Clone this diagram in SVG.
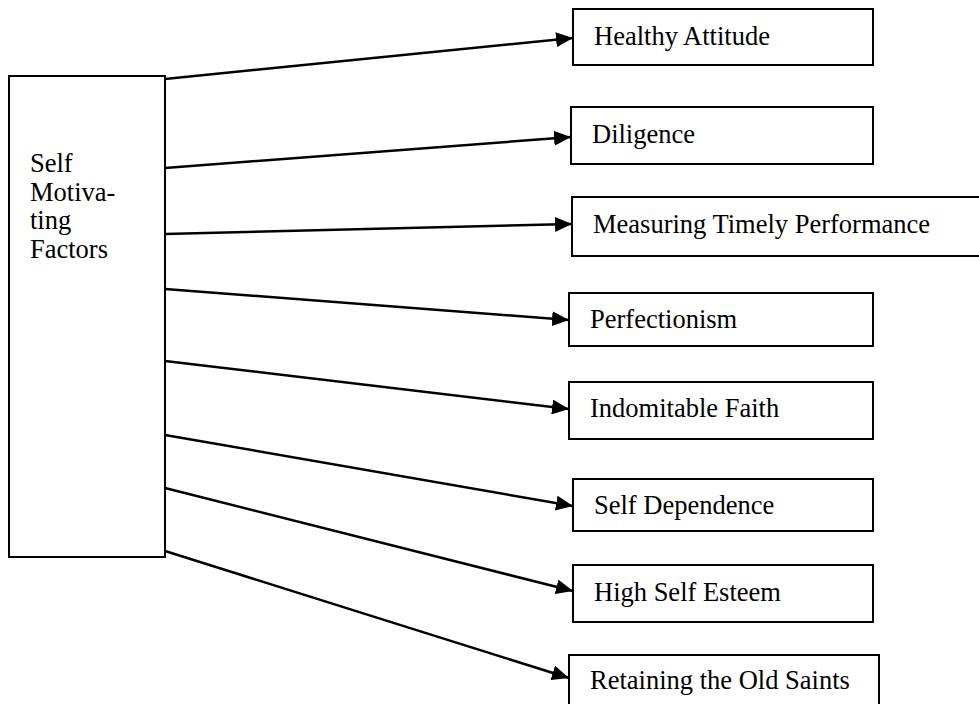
<svg xmlns="http://www.w3.org/2000/svg" width="979" height="704" viewBox="0 0 979 704">
  <style>
    .box { fill: #ffffff; stroke: #000000; stroke-width: 2; }
    .label { font-family: "Liberation Serif", "Times New Roman", serif; font-size: 26.5px; fill: #000000; }
    .link { stroke: #000000; stroke-width: 2.5; fill: none; marker-end: url(#arrow); }
  </style>
  <defs>
    <marker id="arrow" markerUnits="userSpaceOnUse" markerWidth="17" markerHeight="15" refX="17" refY="7.5" orient="auto">
      <path d="M0,0 L17,7.5 L0,15 Z" fill="#000000"/>
    </marker>
  </defs>
  <rect width="979" height="704" fill="#ffffff"/>

  <!-- source node -->
  <g id="self-motivating-factors">
    <rect class="box" x="9" y="76" width="156" height="481"/>
    <text class="label" x="30" y="172">Self</text>
    <text class="label" x="30" y="201">Motiva-</text>
    <text class="label" x="30" y="229">ting</text>
    <text class="label" x="30" y="258">Factors</text>
  </g>

  <!-- factor nodes -->
  <g id="healthy-attitude">
    <rect class="box" x="573" y="9" width="300" height="56"/>
    <text class="label" x="594" y="45">Healthy Attitude</text>
  </g>
  <g id="diligence">
    <rect class="box" x="571" y="107" width="302" height="57"/>
    <text class="label" x="592" y="143">Diligence</text>
  </g>
  <g id="measuring-timely-performance">
    <rect class="box" x="572" y="197" width="420" height="59"/>
    <text class="label" x="593" y="233">Measuring Timely Performance</text>
  </g>
  <g id="perfectionism">
    <rect class="box" x="569" y="293" width="304" height="53"/>
    <text class="label" x="590" y="328">Perfectionism</text>
  </g>
  <g id="indomitable-faith">
    <rect class="box" x="569" y="382" width="304" height="57"/>
    <text class="label" x="590" y="417">Indomitable Faith</text>
  </g>
  <g id="self-dependence">
    <rect class="box" x="573" y="479" width="300" height="52"/>
    <text class="label" x="594" y="514">Self Dependence</text>
  </g>
  <g id="high-self-esteem">
    <rect class="box" x="573" y="565" width="300" height="57"/>
    <text class="label" x="594" y="601">High Self Esteem</text>
  </g>
  <g id="retaining-the-old-saints">
    <rect class="box" x="569" y="655" width="310" height="60"/>
    <text class="label" x="590" y="689">Retaining the Old Saints</text>
  </g>

  <!-- connectors -->
  <g id="connectors">
    <line class="link" x1="165" y1="79" x2="573" y2="38"/>
    <line class="link" x1="165" y1="168" x2="571" y2="137"/>
    <line class="link" x1="165" y1="234" x2="572" y2="224"/>
    <line class="link" x1="165" y1="289" x2="569" y2="320"/>
    <line class="link" x1="165" y1="361" x2="569" y2="409"/>
    <line class="link" x1="165" y1="435" x2="573" y2="506"/>
    <line class="link" x1="165" y1="488" x2="573" y2="591"/>
    <line class="link" x1="165" y1="551" x2="569" y2="678"/>
  </g>
</svg>
